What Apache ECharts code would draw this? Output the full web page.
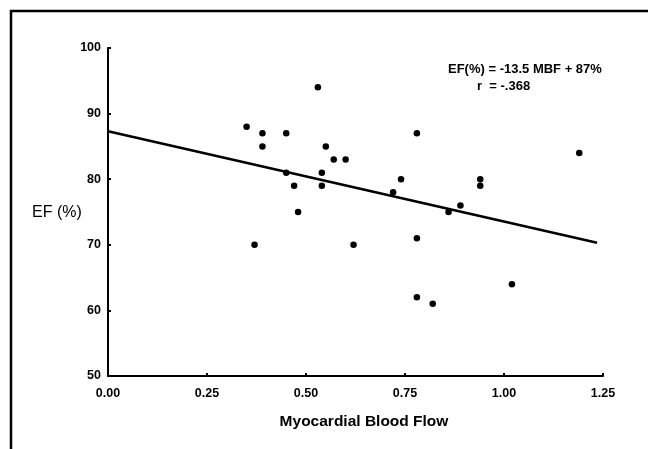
<!DOCTYPE html>
<html>
<head>
<meta charset="utf-8">
<script src="https://cdn.jsdelivr.net/npm/echarts@6/dist/echarts.min.js"></script>
<style>html,body{margin:0;padding:0;background:#fff}#c{width:648px;height:449px}</style>
</head>
<body>
<div id="c"></div>
<script>
// Data
const mbf = [0.35, 0.39, 0.39, 0.45, 0.53, 0.55, 0.57, 0.60, 0.45, 0.54, 0.47, 0.54, 0.48, 0.37, 0.62, 0.72, 0.74, 0.78, 0.78, 0.78, 0.82, 0.86, 0.89, 0.94, 0.94, 1.02, 1.19];
const ef  = [88,   87,   85,   87,   94,   85,   83,   83,   81,   81,   79,   79,   75,   70,   70,   78,   80,   87,   71,   62,   61,   75,   76,   80,   79,   64,   84];
const fitX = [0, 1.235];
const fitY = [87.3, 70.3];
const xTicks = [0, 0.25, 0.5, 0.75, 1.0, 1.25];
const yTicks = [50, 60, 70, 80, 90, 100];
const yTitle = 'EF (%)';
const xTitle = 'Myocardial Blood Flow';
const eqLine1 = 'EF(%) = -13.5 MBF + 87%';
const eqLine2 = 'r  = -.368';

const chart = echarts.init(document.getElementById('c'), null, {renderer: 'canvas'});
const font = 'Liberation Sans, Arial, sans-serif';
chart.setOption({
  animation: false,
  backgroundColor: '#fff',
  grid: {left: 108, right: 45, top: 48, bottom: 73, containLabel: false},
  xAxis: {
    type: 'value', min: xTicks[0], max: xTicks[xTicks.length - 1], interval: 0.25,
    name: xTitle, nameLocation: 'middle', nameGap: 38,
    nameTextStyle: {color: '#000', fontFamily: font, fontSize: 15.5, fontWeight: 'bold', padding: [0, 0, 0, 17]},
    axisLine: {lineStyle: {color: '#000', width: 2}},
    axisTick: {show: true, inside: true, length: 3, lineStyle: {color: '#000', width: 2}},
    axisLabel: {color: '#000', fontFamily: font, fontSize: 12.5, fontWeight: 'bold', margin: 11,
      formatter: v => v.toFixed(2)},
    splitLine: {show: false}
  },
  yAxis: {
    type: 'value', min: yTicks[0], max: yTicks[yTicks.length - 1], interval: 10,
    axisLine: {show: true, lineStyle: {color: '#000', width: 2}},
    axisTick: {show: true, inside: true, length: 3, lineStyle: {color: '#000', width: 2}},
    axisLabel: {color: '#000', fontFamily: font, fontSize: 12.5, fontWeight: 'bold', margin: 7, padding: [5, 0, 0, 0]},
    splitLine: {show: false}
  },
  series: [
    {
      type: 'scatter', symbol: 'circle', symbolSize: 6.5,
      itemStyle: {color: '#000', opacity: 1},
      data: mbf.map((x, i) => [x, ef[i]])
    },
    {
      type: 'line', symbol: 'none', lineStyle: {color: '#000', width: 2.5},
      data: fitX.map((x, i) => [x, fitY[i]])
    }
  ],
  graphic: [
    {type: 'rect', shape: {x: 11, y: 11, width: 700, height: 500}, style: {fill: 'none', stroke: '#000', lineWidth: 2.5}, silent: true},
    {type: 'text', left: 32, top: 205, style: {text: yTitle, fill: '#000', font: '16px ' + font}},
    {type: 'text', left: 448, top: 63, style: {text: eqLine1, fill: '#000', font: 'bold 13px ' + font}},
    {type: 'text', left: 477, top: 80, style: {text: eqLine2, fill: '#000', font: 'bold 13px ' + font}}
  ]
});
</script>
</body>
</html>
